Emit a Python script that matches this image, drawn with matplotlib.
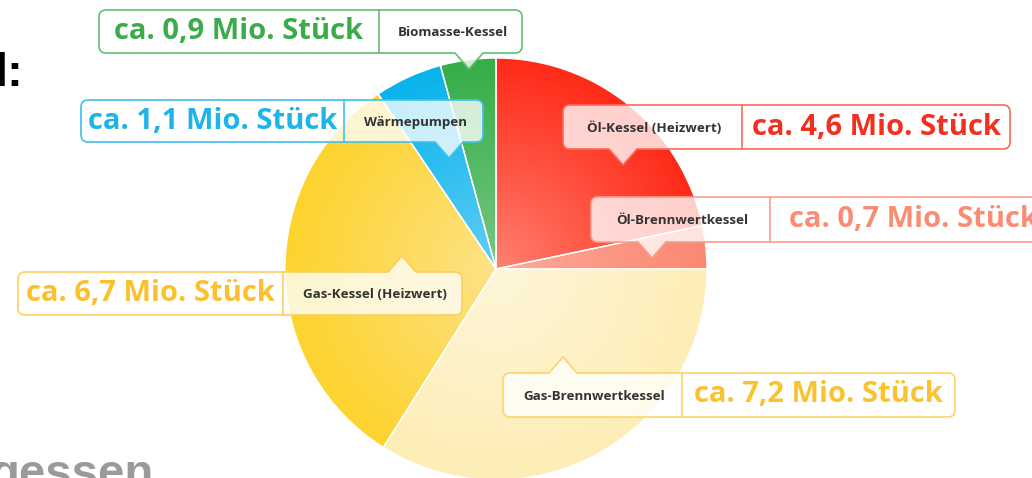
import numpy as np
import matplotlib
matplotlib.use('Agg')
import matplotlib.pyplot as plt
from matplotlib.path import Path
from matplotlib.patches import PathPatch
from matplotlib.colors import to_rgb

# ---------------- data ----------------
categories = ['Öl-Kessel (Heizwert)', 'Öl-Brennwertkessel', 'Gas-Brennwertkessel',
              'Gas-Kessel (Heizwert)', 'Wärmepumpen', 'Biomasse-Kessel']
values = [4.6, 0.7, 7.2, 6.7, 1.1, 0.9]
value_labels = ['ca. 4,6 Mio. Stück', 'ca. 0,7 Mio. Stück', 'ca. 7,2 Mio. Stück',
                'ca. 6,7 Mio. Stück', 'ca. 1,1 Mio. Stück', 'ca. 0,9 Mio. Stück']

# ---------------- styles ----------------
outer_colors = ['#ff2a18', '#fb8872', '#fdedb6', '#fdd32e', '#08b3ec', '#36ad48']
inner_colors = ['#ff8474', '#fdab9c', '#fef6da', '#fde38a', '#66cff4', '#7ac986']
text_colors = ['#f3301f', '#fb8c74', '#fbc230', '#fbc02c', '#1db4e8', '#3cab4a']
border_colors = ['#f86a5c', '#fb9c8c', '#fcd46a', '#fcd060', '#3fc0ef', '#62bf70']

W, H = 1032, 478
CX, CY, RAD = 496, 269, 211

# box layout in pixel coords (left, top, right, bottom), divider x, pointer x, pointer side, value first?
layout = [
    dict(box=(563, 105, 1010, 149), div=742, ptr=623, side='bottom', value_first=False),
    dict(box=(591, 197, 1056, 242), div=770, ptr=652, side='bottom', value_first=False),
    dict(box=(503, 373, 955, 417), div=682, ptr=563, side='top', value_first=False),
    dict(box=(18, 272, 462, 315), div=283, ptr=402, side='top', value_first=True),
    dict(box=(81, 100, 483, 142), div=344, ptr=449, side='bottom', value_first=True),
    dict(box=(99, 10, 522, 53), div=379, ptr=469, side='bottom', value_first=True),
]


def Y(py):
    return H - py


fig = plt.figure(figsize=(W / 100, H / 100), dpi=100)
ax = fig.add_axes([0, 0, 1, 1])
ax.set_axis_off()

wedges, _ = ax.pie(values, startangle=90, counterclock=False, center=(CX, Y(CY)),
                   radius=RAD, colors=outer_colors,
                   wedgeprops=dict(edgecolor='white', linewidth=1.0))

# radial gradients clipped to wedges
n = 500
xs = np.linspace(CX - RAD, CX + RAD, n)
ys = np.linspace(Y(CY) - RAD, Y(CY) + RAD, n)
XX, YY = np.meshgrid(xs, ys)
rr = np.clip(np.hypot(XX - CX, YY - Y(CY)) / RAD, 0, 1)
for w, oc, ic in zip(wedges, outer_colors, inner_colors):
    o = np.array(to_rgb(oc)); i = np.array(to_rgb(ic))
    t = rr[..., None] ** 0.9
    img = i + (o - i) * t
    im = ax.imshow(img, extent=(CX - RAD, CX + RAD, Y(CY) - RAD, Y(CY) + RAD),
                   origin='lower', zorder=1.5, interpolation='bilinear')
    im.set_clip_path(w)
for w in wedges:
    w2 = PathPatch(w.get_path(), transform=w.get_transform(), facecolor='none',
                   edgecolor='white', linewidth=1.0, zorder=1.6)
    ax.add_patch(w2)


def box_path(L, T, R, B, px, side, r=7, pw=14, ph=16):
    verts = []
    codes = []
    def mv(p):
        verts.append(p); codes.append(Path.MOVETO)
    def ln(p):
        verts.append(p); codes.append(Path.LINETO)
    def cv(c, p):
        verts.extend([c, p]); codes.extend([Path.CURVE3, Path.CURVE3])
    mv((L + r, T))
    if side == 'top':
        ln((px - pw, T)); ln((px, T + ph)); ln((px + pw, T))
    ln((R - r, T))
    cv((R, T), (R, T - r))
    ln((R, B + r))
    cv((R, B), (R - r, B))
    if side == 'bottom':
        ln((px + pw, B)); ln((px, B - ph)); ln((px - pw, B))
    ln((L + r, B))
    cv((L, B), (L, B + r))
    ln((L, T - r))
    cv((L, T), (L + r, T))
    verts.append((L + r, T)); codes.append(Path.CLOSEPOLY)
    return Path(verts, codes)


VAL_FONT = 'Open Sans'
CAT_FONT = 'Open Sans'

for cat, vl, tc, bc, lay in zip(categories, value_labels, text_colors, border_colors, layout):
    L, T, R, B = lay['box']
    div = lay['div']
    p = box_path(L, Y(T), R, Y(B), lay['ptr'], lay['side'])
    ax.add_patch(PathPatch(p, facecolor=(1, 1, 1, 0.78), edgecolor=bc, linewidth=1.2, zorder=3))
    ax.plot([div, div], [Y(T), Y(B)], color=bc, linewidth=1.2, zorder=3.1)
    yc = Y((T + B) / 2)
    if lay['value_first']:
        vx = (L + div) / 2
        cx = (div + R) / 2
    else:
        cx = (L + div) / 2
        vx = (div + R) / 2
    ax.text(vx, yc, vl, color=tc, fontsize=21, fontweight='bold', family=VAL_FONT,
            ha='center', va='center', zorder=4)
    ax.text(cx + 2, yc - 1, cat, color='#333333', fontsize=9.6, fontweight='bold', family=CAT_FONT,
            ha='center', va='center', zorder=4)

# residual slide text
ax.text(24, Y(86), 'l:', color='black', fontsize=34, fontweight='bold',
        family='Liberation Sans', ha='right', va='baseline', zorder=4)
ax.text(153, Y(487), 'gessen', color='#9a9a9a', fontsize=34, fontweight='bold',
        family='Liberation Sans', ha='right', va='baseline', zorder=4)

ax.set_xlim(0, W)
ax.set_ylim(0, H)
ax.set_aspect('auto')
fig.savefig('out.png', dpi=100)
